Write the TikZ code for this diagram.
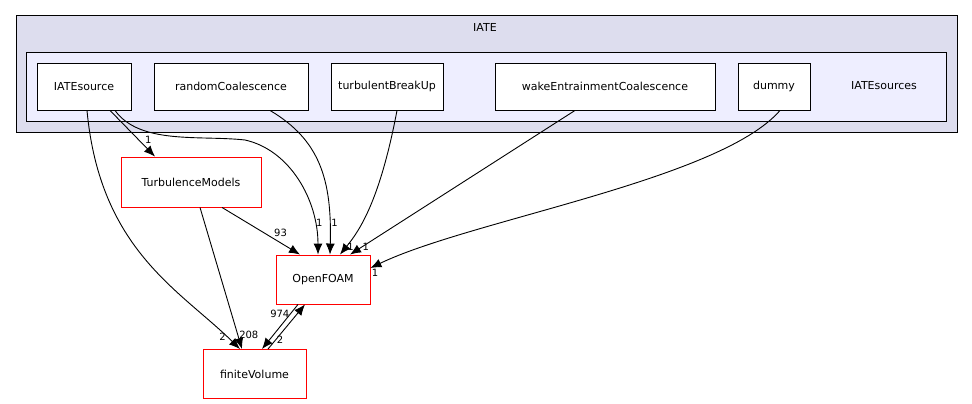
\documentclass[tikz,border=0pt]{standalone}
\usepackage{fontspec}
\setmainfont{DejaVu Sans}
\usetikzlibrary{arrows.meta}
\definecolor{outerfill}{HTML}{DDDDEE}
\definecolor{innerfill}{HTML}{EEEEFF}
\definecolor{reddir}{HTML}{FF0000}
\tikzset{
  dirbox/.style={draw, fill=white, minimum height=47pt, inner sep=0pt, font=\fontsize{11}{13}\selectfont},
  redbox/.style={dirbox, draw=reddir, minimum height=49pt},
  dep/.style={-{Latex[length=11pt,width=9pt]}},
  num/.style={font=\fontsize{10}{12}\selectfont, inner sep=1pt}
}
\begin{document}
\begin{tikzpicture}[x=1pt, y=-1pt, line width=0.9pt]

    % Frame
    \useasboundingbox (0,0) rectangle (972,404);

    % Outer and inner folders
    \draw[fill=outerfill] (16,15) rectangle (957,132);
    \node[font=\fontsize{11}{13}\selectfont] (iate) at (485,27) {IATE};
    \draw[fill=innerfill] (26,52) rectangle (946,121);
    \node[font=\fontsize{11}{13}\selectfont] (sources) at (884,86) {IATEsources};

    % Sub folders
    \node[dirbox, minimum width=94pt] (src) at (84,86.5) {IATEsource};
    \node[dirbox, minimum width=154pt] (random) at (231,86.5) {randomCoalescence};
    \node[dirbox, minimum width=112pt] (breakup) at (387,86.5) {turbulentBreakUp};
    \node[dirbox, minimum width=220pt] (wake) at (605,86.5) {wakeEntrainmentCoalescence};
    \node[dirbox, minimum width=72pt] (dummy) at (774,86.5) {dummy};

    % External folders
    \node[redbox, minimum width=140pt, minimum height=50pt] (turb) at (191,182) {TurbulenceModels};
    \node[redbox, minimum width=94pt] (foam) at (323,279.5) {OpenFOAM};
    \node[redbox, minimum width=103pt] (fv) at (254.5,374) {finiteVolume};

    % Dependencies
    \draw[dep] (src.south -| 110,0) -- (turb.north -| 155,0)
        node[num, pos=0.75, above right] {1};
    \draw[dep] (src.south -| 115,0) .. controls (140,145) and (200,135) .. (245,140)
        .. controls (290,150) and (318,200) .. (foam.north -| 318,0)
        node[num, pos=0.8, right] {1};
    \draw[dep] (src.south -| 87,0) .. controls (100,250) and (180,290) .. (fv.north -| 240,0)
        node[num, pos=0.93, left] {2};
    \draw[dep] (random.south -| 270,0) .. controls (320,140) and (332,180) .. (foam.north -| 330,0)
        node[num, pos=0.85, right] {1};
    \draw[dep] (breakup.south -| 397,0) .. controls (380,200) and (360,230) .. (foam.north -| 340,0)
        node[num, pos=0.9, right] {1};
    \draw[dep] (wake.south -| 575,0) -- (foam.north -| 350,0)
        node[num, pos=0.95, right] {1};
    \draw[dep] (dummy.south -| 780,0) .. controls (720,180) and (470,220) .. (foam.east |- 0,268)
        node[num, pos=1, below right] {1};
    \draw[dep] (turb.south -| 222,0) -- (foam.north -| 300,0)
        node[num, pos=0.65, above right] {93};
    \draw[dep] (turb.south -| 200,0) -- (fv.north -| 242,0)
        node[num, pos=0.9, right] {208};
    \draw[dep] (foam.south -| 298,0) -- (fv.north -| 262,0)
        node[num, pos=0.2, left] {974};
    \draw[dep] (fv.north -| 268,0) -- (foam.south -| 305,0)
        node[num, pos=0.2, right] {2};

\end{tikzpicture}
\end{document}
